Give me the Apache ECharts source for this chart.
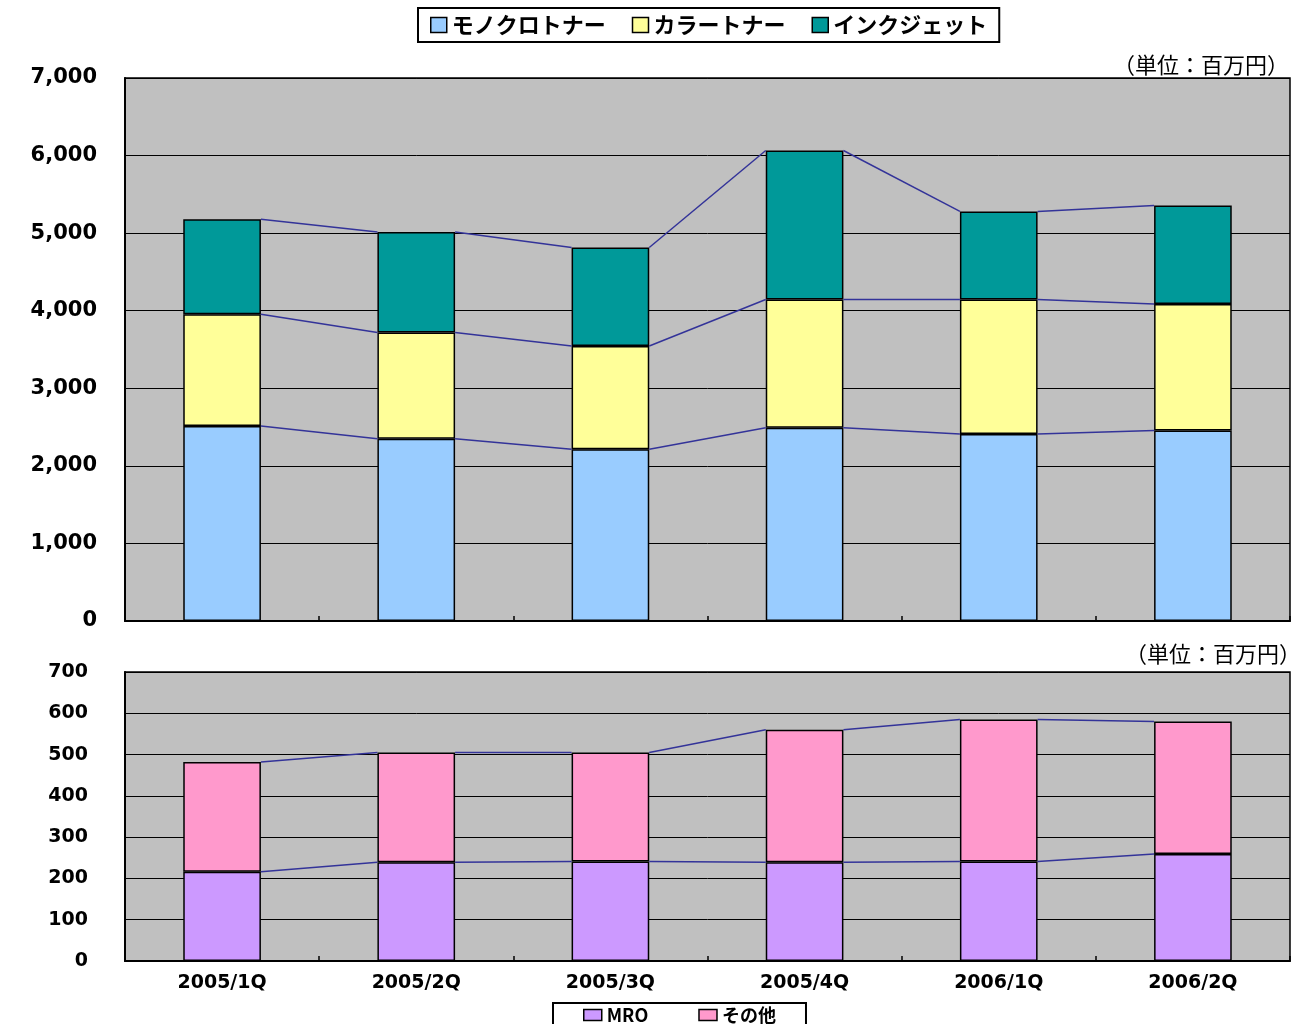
<!DOCTYPE html>
<html>
<head>
<meta charset="utf-8">
<script src="https://cdn.jsdelivr.net/npm/echarts@6/dist/echarts.min.js"></script>
<style>
  html, body { margin: 0; padding: 0; background: #fff; }
  #chart { width: 1301px; height: 1024px; }
</style>
</head>
<body>
<div id="chart"></div>
<script>
const categories = ['2005/1Q', '2005/2Q', '2005/3Q', '2005/4Q', '2006/1Q', '2006/2Q']

// upper chart (百万円)
const monoToner = [2515, 2350, 2215, 2490, 2410, 2455]
const colorToner = [1440, 1370, 1330, 1655, 1735, 1630]
const inkjet = [1225, 1295, 1270, 1920, 1135, 1270]

// lower chart (百万円)
const mro = [216, 239, 241, 239, 241, 259]
const other = [266, 266, 264, 321, 344, 321]

const upperTicks = [0, 1000, 2000, 3000, 4000, 5000, 6000, 7000]
const lowerTicks = [0, 100, 200, 300, 400, 500, 600, 700]

const BAR_RATIO = 0.4
const labelFont = 'DejaVu Sans'
const jpFont = 'Noto Sans CJK JP'

// cumulative tops of each stacked layer, used by the connector lines
function cumulative(layers) {
  const out = []
  let run = categories.map(() => 0)
  layers.forEach((arr) => {
    run = run.map((v, i) => v + arr[i])
    out.push(run.slice())
  })
  return out
}

// Excel-style series lines between neighbouring stacked bars
function seriesLines(xAxisIndex, yAxisIndex, levels) {
  return {
    type: 'custom',
    xAxisIndex,
    yAxisIndex,
    z: 5,
    silent: true,
    data: categories.slice(0, -1).map((c, i) => [i]),
    renderItem: (params, api) => {
      const i = api.value(0)
      const half = api.size([1, 0])[0] * BAR_RATIO / 2
      return {
        type: 'group',
        children: levels.map((cum) => {
          const p1 = api.coord([i, cum[i]])
          const p2 = api.coord([i + 1, cum[i + 1]])
          return {
            type: 'line',
            shape: { x1: p1[0] + half, y1: p1[1], x2: p2[0] - half, y2: p2[1] },
            style: { stroke: '#333399', lineWidth: 1.5 },
          }
        }),
      }
    },
  }
}

function barSeries(name, data, color, xAxisIndex, yAxisIndex, stack) {
  return {
    name,
    type: 'bar',
    stack,
    xAxisIndex,
    yAxisIndex,
    data,
    barWidth: BAR_RATIO * 100 + '%',
    itemStyle: { color, borderColor: '#000', borderWidth: 1.5 },
    emphasis: { disabled: true },
  }
}

function xAxis(gridIndex, showLabels) {
  return {
    type: 'category',
    gridIndex,
    data: categories,
    axisLine: { lineStyle: { color: '#000', width: 2 } },
    axisTick: { show: true, inside: true, length: 5, lineStyle: { color: '#000', width: 1.5 } },
    axisLabel: {
      show: showLabels,
      margin: 13,
      color: '#000',
      fontFamily: labelFont,
      fontWeight: 'bold',
      fontSize: 19,
    },
  }
}

function yAxis(gridIndex, ticks, fontSize, margin, pad) {
  return {
    type: 'value',
    gridIndex,
    min: ticks[0],
    max: ticks[ticks.length - 1],
    interval: ticks[1] - ticks[0],
    axisLine: { show: true, lineStyle: { color: '#000', width: 2 } },
    axisTick: { show: false },
    splitLine: { lineStyle: { color: '#000', width: 1 } },
    axisLabel: {
      margin,
      color: '#000',
      fontFamily: labelFont,
      fontWeight: 'bold',
      fontSize,
      padding: [pad, 0, 0, 0],
      formatter: (v) => v.toLocaleString('en-US'),
    },
  }
}

const upperLevels = cumulative([monoToner, colorToner, inkjet])
const lowerLevels = cumulative([mro, other])

const legendBase = {
  orient: 'horizontal',
  backgroundColor: '#fff',
  borderColor: '#000',
  borderWidth: 2,
  icon: 'rect',
  itemStyle: { borderColor: '#000', borderWidth: 1.5 },
  textStyle: { color: '#000', fontFamily: jpFont, fontWeight: 'bold' },
  selectedMode: false,
}

const option = {
  animation: false,
  backgroundColor: '#fff',
  legend: [
    {
      ...legendBase,
      data: ['モノクロトナー', 'カラートナー', 'インクジェット'],
      left: 418,
      top: 8,
      padding: [6, 12],
      itemGap: 26,
      itemWidth: 16,
      itemHeight: 15,
      textStyle: { ...legendBase.textStyle, fontSize: 22 },
    },
    {
      ...legendBase,
      data: ['MRO', 'その他'],
      left: 553,
      top: 1003,
      padding: [3, 30],
      itemGap: 50,
      itemWidth: 18,
      itemHeight: 11,
      textStyle: { ...legendBase.textStyle, fontSize: 18 },
    },
  ],
  graphic: [
    {
      type: 'text', right: 12, top: 54,
      style: { text: '（単位：百万円）', fontFamily: jpFont, fontSize: 22, fill: '#000' },
    },
    {
      type: 'text', right: 0, top: 643,
      style: { text: '（単位：百万円）', fontFamily: jpFont, fontSize: 22, fill: '#000' },
    },
  ],
  grid: [
    { left: 125, right: 11, top: 78, height: 543, show: true, backgroundColor: '#C0C0C0', borderColor: '#000', borderWidth: 1.5 },
    { left: 125, right: 11, top: 672, height: 289, show: true, backgroundColor: '#C0C0C0', borderColor: '#000', borderWidth: 1.5 },
  ],
  xAxis: [xAxis(0, false), xAxis(1, true)],
  yAxis: [yAxis(0, upperTicks, 21, 28, 8), yAxis(1, lowerTicks, 19, 37, 4)],
  series: [
    barSeries('モノクロトナー', monoToner, '#99CCFF', 0, 0, 'upper'),
    barSeries('カラートナー', colorToner, '#FFFF99', 0, 0, 'upper'),
    barSeries('インクジェット', inkjet, '#009999', 0, 0, 'upper'),
    seriesLines(0, 0, upperLevels),
    barSeries('MRO', mro, '#CC99FF', 1, 1, 'lower'),
    barSeries('その他', other, '#FF99CC', 1, 1, 'lower'),
    seriesLines(1, 1, lowerLevels),
  ],
}

const chart = echarts.init(document.getElementById('chart'))
chart.setOption(option)
</script>
</body>
</html>
